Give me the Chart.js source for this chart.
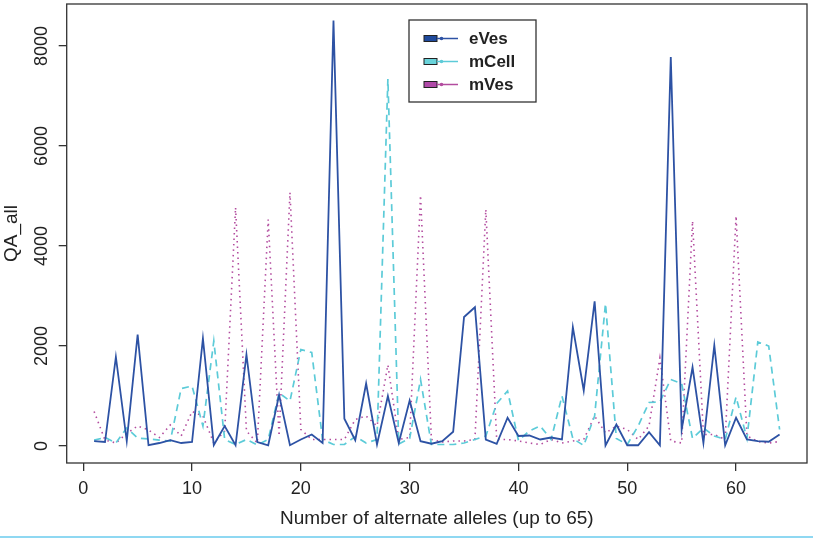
<!DOCTYPE html>
<html>
<head>
<meta charset="utf-8">
<script src="https://cdn.jsdelivr.net/npm/chart.js@4.4.1/dist/chart.umd.min.js"></script>
<style>
  html, body { margin: 0; padding: 0; background: #fff; }
  #wrap { position: relative; width: 813px; height: 539px; }
  #bar { position: absolute; left: 0; top: 536px; width: 813px; height: 2px; background: #8fd8f2; }
</style>
</head>
<body>
<div id="wrap">
  <canvas id="qa_chart" width="813" height="539"></canvas>
  <div id="bar"></div>
</div>
<script>
var alleles = [1, 2, 3, 4, 5, 6, 7, 8, 9, 10, 11, 12, 13, 14, 15, 16,
    17, 18, 19, 20, 21, 22, 23, 24, 25, 26, 27, 28, 29, 30, 31, 32,
    33, 34, 35, 36, 37, 38, 39, 40, 41, 42, 43, 44, 45, 46, 47, 48,
    49, 50, 51, 52, 53, 54, 55, 56, 57, 58, 59, 60, 61, 62, 63, 64];

var eVes = [96, 80, 1780, 100, 2230, 15, 60, 116, 60, 80, 2150, 20, 400, 15, 1825, 80,
    15, 1020, 15, 130, 230, 60, 8510, 545, 116, 1250, 30, 1000, 60, 910, 96, 45,
    96, 285, 2580, 2775, 130, 45, 565, 200, 210, 130, 170, 130, 2375, 1110, 2895, 10,
    430, 15, 15, 277, 15, 7780, 330, 1575, 60, 2010, 15, 565, 130, 96, 85, 230];

var mCell = [117, 170, 60, 360, 160, 140, 117, 100, 1150, 1200, 400, 2100, 130, 30, 130, 20,
    130, 1060, 900, 1930, 1870, 130, 30, 30, 190, 60, 130, 7340, 40, 150, 1330, 30,
    30, 30, 60, 130, 200, 850, 1100, 110, 300, 400, 130, 1000, 150, 10, 600, 2850,
    150, 30, 400, 870, 885, 1330, 1250, 150, 360, 200, 130, 980, 150, 2080, 2000, 330];

var mVes = [690, 120, 60, 250, 400, 320, 170, 420, 200, 690, 600, 60, 300, 4770, 300, 60,
    4530, 200, 5070, 330, 130, 130, 130, 130, 530, 600, 400, 1620, 130, 170, 5010, 130,
    80, 100, 100, 130, 4730, 130, 130, 100, 60, 30, 130, 60, 100, 130, 600, 260,
    400, 330, 130, 400, 1760, 100, 60, 4500, 230, 230, 130, 4600, 200, 90, 60, 90];

var xTicks = [0, 10, 20, 30, 40, 50, 60];
var yTicks = [0, 2000, 4000, 6000, 8000];

var seriesNames = ['eVes', 'mCell', 'mVes'];
var lineColors = ['#2d52a4', '#5ccbd8', '#b34c9f'];
var swatchColors = ['#1f4a9c', '#69d3da', '#b04aa8'];

function points(values){
    return alleles.map(function(a, i){ return {x: a, y: values[i]}; });
}

var FONT = '"Liberation Sans", Arial, sans-serif';

var framePlugin = {
    id: 'frame',
    afterDraw: function(chart){
        var ctx = chart.ctx;
        var area = chart.chartArea;
        var y = chart.scales.y;
        ctx.save();
        ctx.strokeStyle = '#333';
        ctx.lineWidth = 1.3;
        ctx.strokeRect(area.left, area.top, area.right - area.left, area.bottom - area.top);

        // y tick labels, rotated like R
        ctx.fillStyle = '#222';
        ctx.font = '18px ' + FONT;
        ctx.textAlign = 'center';
        ctx.textBaseline = 'middle';
        yTicks.forEach(function(v){
            ctx.save();
            ctx.translate(42, y.getPixelForValue(v));
            ctx.rotate(-Math.PI / 2);
            ctx.fillText(String(v), 0, 0);
            ctx.restore();
        });

        // axis titles
        ctx.font = '19px ' + FONT;
        ctx.save();
        ctx.translate(12, (area.top + area.bottom) / 2);
        ctx.rotate(-Math.PI / 2);
        ctx.fillText('QA_all', 0, 0);
        ctx.restore();
        ctx.fillText('Number of alternate alleles (up to 65)', (area.left + area.right) / 2, 519);

        // legend
        var lx = 409, ly = 20, lw = 127, lh = 82;
        ctx.fillStyle = '#fff';
        ctx.fillRect(lx, ly, lw, lh);
        ctx.strokeStyle = '#333';
        ctx.lineWidth = 1.3;
        ctx.strokeRect(lx, ly, lw, lh);
        ctx.textAlign = 'left';
        ctx.font = 'bold 17px ' + FONT;
        seriesNames.forEach(function(name, i){
            var cy = 38.5 + i * 23;
            ctx.fillStyle = swatchColors[i];
            ctx.fillRect(424, cy - 3, 13, 6);
            ctx.strokeStyle = '#222';
            ctx.lineWidth = 1;
            ctx.strokeRect(424, cy - 3, 13, 6);
            ctx.strokeStyle = lineColors[i];
            ctx.lineWidth = 1.5;
            ctx.beginPath();
            ctx.moveTo(437, cy);
            ctx.lineTo(458, cy);
            ctx.stroke();
            ctx.fillStyle = lineColors[i];
            ctx.beginPath();
            ctx.arc(441.5, cy, 1.8, 0, Math.PI * 2);
            ctx.fill();
            ctx.fillStyle = '#222';
            ctx.fillText(name, 469, cy + 1);
        });
        ctx.restore();
    }
};

var ctx = document.getElementById('qa_chart').getContext('2d');
var qa_chart = new Chart(ctx, {
    type: 'line',
    data: {
        datasets: [{
            label: 'eVes',
            data: points(eVes),
            borderColor: lineColors[0],
            borderWidth: 1.8,
            pointRadius: 0,
            order: 0,
        },{
            label: 'mCell',
            data: points(mCell),
            borderColor: lineColors[1],
            borderWidth: 1.7,
            borderDash: [7, 5],
            pointRadius: 0,
            order: 1,
        },{
            label: 'mVes',
            data: points(mVes),
            borderColor: lineColors[2],
            borderWidth: 1.6,
            borderDash: [1.5, 4],
            pointRadius: 0,
            order: 2,
        },]
    },
    options: {
        responsive: false,
        animation: false,
        devicePixelRatio: 1,
        layout: { padding: { top: 4, right: 6, left: 0, bottom: 0 } },
        plugins: { legend: { display: false }, tooltip: { enabled: false } },
        elements: { line: { tension: 0, fill: false } },
        scales: {
            x: {
                type: 'linear',
                min: -1.52,
                max: 66.52,
                afterBuildTicks: function(scale){
                    scale.ticks = xTicks.map(function(v){ return {value: v}; });
                },
                afterFit: function(scale){ scale.height = 76; },
                grid: { drawOnChartArea: false, drawTicks: true, tickLength: 8, color: '#333', lineWidth: 1.3 },
                border: { display: false },
                ticks: { color: '#222', font: { family: FONT, size: 18 }, padding: 7, maxRotation: 0 },
            },
            y: {
                type: 'linear',
                min: -340,
                max: 8840,
                afterBuildTicks: function(scale){
                    scale.ticks = yTicks.map(function(v){ return {value: v}; });
                },
                afterFit: function(scale){ scale.width = 66.7; },
                grid: { drawOnChartArea: false, drawTicks: true, tickLength: 8, color: '#333', lineWidth: 1.3 },
                border: { display: false },
                ticks: { display: false },
            }
        }
    },
    plugins: [framePlugin]
});
</script>
</body>
</html>
